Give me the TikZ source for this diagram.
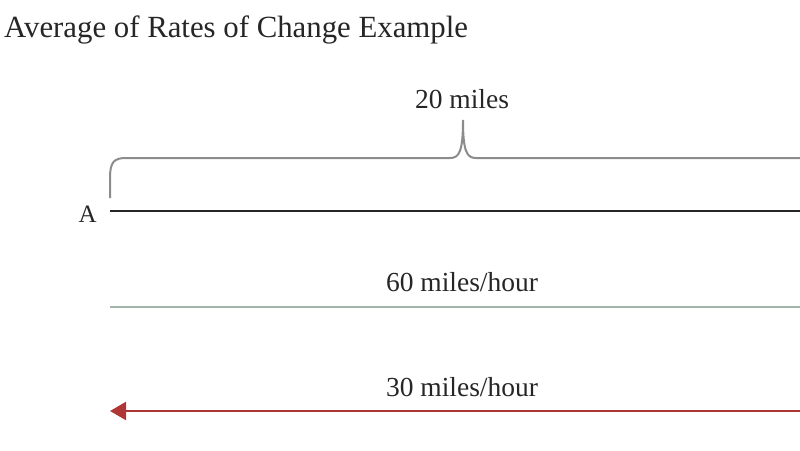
\documentclass[tikz,border=0pt]{standalone}
\usepackage{fontspec}
\setmainfont{Liberation Serif}
\usetikzlibrary{arrows.meta}
\definecolor{bracegray}{HTML}{8C8C8C}
\definecolor{linegreen}{HTML}{A3B5AA}
\definecolor{linered}{HTML}{B03535}
\begin{document}
\begin{tikzpicture}[x=1pt,y=-1pt,
  lbl/.style={inner sep=0pt,anchor=base,text=black!85},
  road/.style={line width=2pt,draw=black!85},
  speed/.style={line width=2.2pt}]
\useasboundingbox (0,0) rectangle (800,450);
\clip (0,0) rectangle (800,450);
\node[lbl,anchor=base west,font=\fontsize{30.8}{36}\selectfont] (title) at (4,37) {Average of Rates of Change Example};
\node[lbl,font=\fontsize{27.5}{32}\selectfont] (dist) at (462,108) {20 miles};
\node[lbl,anchor=base east,font=\fontsize{25}{30}\selectfont] (A) at (97,222) {A};
\coordinate (a) at (110,211);
\coordinate (b) at (816,211);
\draw[road] (a) -- (b);
% brace
\coordinate (bl) at (110,198);
\coordinate (br) at (816,198);
\coordinate (tip) at (463,120);
\draw[bracegray,line width=2pt]
  (bl) -- (110,178) .. controls (110,162) and (114,158) .. (126,158)
  -- (450,158) .. controls (459,158) and (463,152) .. (tip)
  .. controls (463,152) and (467,158) .. (476,158)
  -- (800,158) .. controls (812,158) and (816,162) .. (816,178) -- (br);
% speeds
\node[lbl,font=\fontsize{27.5}{32}\selectfont] (s60) at (462,291) {60 miles/hour};
\coordinate (ga) at (110,307);
\coordinate (gb) at (816,307);
\draw[speed,linegreen] (ga) -- (gb);
\node[lbl,font=\fontsize{27.5}{32}\selectfont] (s30) at (462,396) {30 miles/hour};
\coordinate (ra) at (110,411);
\coordinate (rb) at (816,411);
\draw[speed,linered,-{Triangle[length=16pt,width=18pt]}] (rb) -- (ra);
\end{tikzpicture}
\end{document}
